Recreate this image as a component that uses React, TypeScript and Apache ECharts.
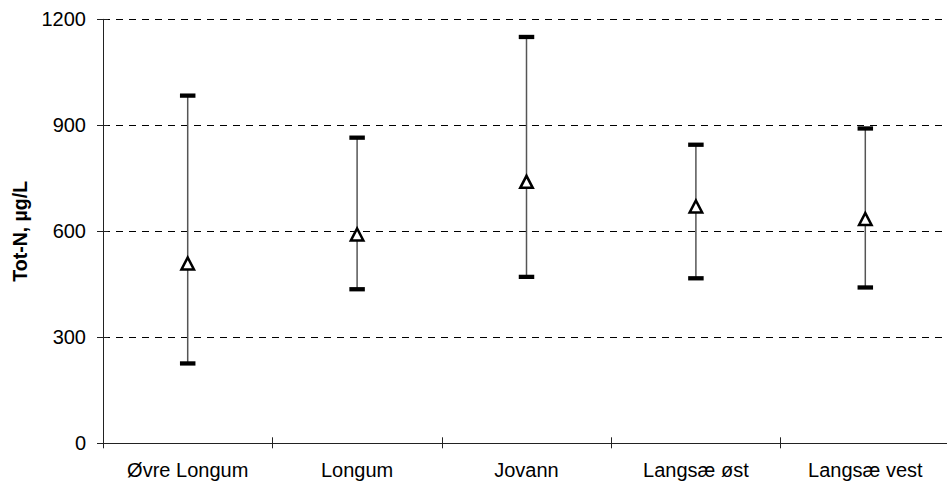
import React, { useEffect, useRef } from "react";
import * as echarts from "echarts";

const categories = ["Øvre Longum", "Longum", "Jovann", "Langsæ øst", "Langsæ vest"];
const meanValues = [509, 591, 740, 670, 635];
const lowValues = [226, 436, 471, 467, 441];
const highValues = [984, 865, 1150, 845, 891];
const yTicks = [0, 300, 600, 900, 1200];

const FONT = "'Liberation Sans', Arial, Helvetica, sans-serif";

export default function App() {
  const ref = useRef<HTMLDivElement>(null);

  useEffect(() => {
    document.body.style.margin = "0";
    document.body.style.overflow = "hidden";
    if (!ref.current) return;
    const chart = echarts.init(ref.current, null, { renderer: "svg" });

    const errData = categories.map((_, i) => [i, lowValues[i], highValues[i]]);

    chart.setOption({
      animation: false,
      backgroundColor: "#ffffff",
      grid: {
        left: 103,
        right: -3,
        top: 19.3,
        bottom: 45.7,
        containLabel: false,
        outerBoundsMode: "none",
      },
      xAxis: [
        {
          type: "category",
          data: categories,
          boundaryGap: true,
          axisLine: { show: true, lineStyle: { color: "#222", width: 1 } },
          axisTick: { show: true, inside: false, length: 5, lineStyle: { color: "#222", width: 1 } },
          axisLabel: {
            color: "#000",
            fontFamily: FONT,
            fontSize: 20,
            margin: 17,
            interval: 0,
          },
          splitLine: { show: false },
        },
        {
          type: "category",
          data: categories,
          position: "bottom",
          boundaryGap: true,
          axisLine: { show: false },
          axisTick: { show: true, inside: true, length: 6, lineStyle: { color: "#222", width: 1 } },
          axisLabel: { show: false },
          splitLine: { show: false },
        },
      ],
      yAxis: [
        {
          type: "value",
          min: yTicks[0],
          max: yTicks[yTicks.length - 1],
          interval: 300,
          name: "Tot-N, µg/L",
          nameLocation: "middle",
          nameGap: 73,
          nameTextStyle: {
            color: "#000",
            fontFamily: FONT,
            fontSize: 19.5,
            fontWeight: "bold",
          },
          axisLine: { show: true, lineStyle: { color: "#222", width: 1 } },
          axisTick: { show: true, inside: false, length: 6, lineStyle: { color: "#222", width: 1 } },
          axisLabel: {
            color: "#000",
            fontFamily: FONT,
            fontSize: 20,
            margin: 17,
            formatter: (v: number) => String(v),
          },
          splitLine: {
            show: true,
            lineStyle: { color: "#000", width: 1, type: [7, 6] },
          },
        },
        {
          type: "value",
          min: yTicks[0],
          max: yTicks[yTicks.length - 1],
          interval: 300,
          position: "left",
          axisLine: { show: false },
          axisTick: { show: true, inside: true, length: 5, lineStyle: { color: "#222", width: 1 } },
          axisLabel: { show: false },
          splitLine: { show: false },
        },
      ],
      series: [
        {
          type: "custom",
          xAxisIndex: 0,
          yAxisIndex: 0,
          data: errData,
          encode: { x: 0, y: [1, 2] },
          z: 2,
          renderItem: (params: any, api: any) => {
            const idx = api.value(0);
            const lo = api.value(1);
            const hi = api.value(2);
            const pLo = api.coord([idx, lo]);
            const pHi = api.coord([idx, hi]);
            const capW = 15.5;
            const capH = 4.3;
            return {
              type: "group",
              children: [
                {
                  type: "line",
                  shape: { x1: pLo[0], y1: pLo[1], x2: pHi[0], y2: pHi[1] },
                  style: { stroke: "#555", lineWidth: 1.5 },
                },
                {
                  type: "rect",
                  shape: { x: pHi[0] - capW / 2, y: pHi[1] - capH / 2, width: capW, height: capH },
                  style: { fill: "#000" },
                },
                {
                  type: "rect",
                  shape: { x: pLo[0] - capW / 2, y: pLo[1] - capH / 2, width: capW, height: capH },
                  style: { fill: "#000" },
                },
              ],
            };
          },
        },
        {
          type: "scatter",
          xAxisIndex: 0,
          yAxisIndex: 0,
          data: meanValues,
          symbol: "triangle",
          symbolSize: [12.5, 12],
          z: 3,
          itemStyle: { color: "#ffffff", borderColor: "#000", borderWidth: 2.5, opacity: 1 },
          emphasis: { disabled: true },
        },
      ],
    });

    return () => chart.dispose();
  }, []);

  return <div ref={ref} style={{ width: 947, height: 489 }} />;
}
